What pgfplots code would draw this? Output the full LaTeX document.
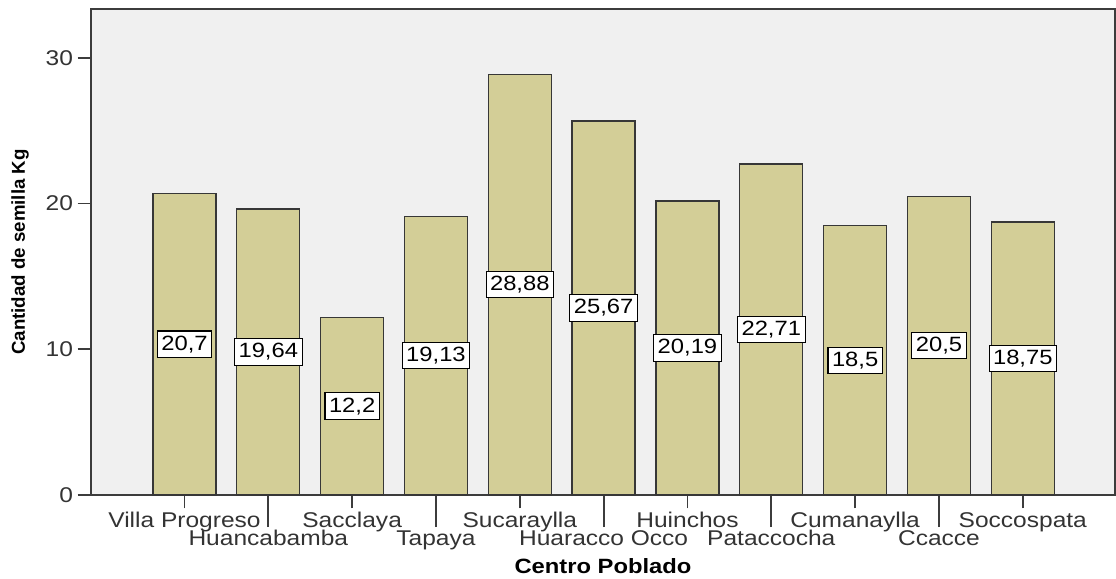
\documentclass[border=0pt]{standalone}
\usepackage{pgfplots}
\pgfplotsset{compat=1.18}
\usepackage{pgfplotstable}
\usepackage{fontspec}
\setmainfont{Liberation Sans}[FakeStretch=1.15]
\newfontfamily\plainsans{Liberation Sans}

\definecolor{bggray}{RGB}{240,240,240}
\definecolor{barfill}{RGB}{211,206,151}
\definecolor{bardraw}{RGB}{55,55,55}
\definecolor{axisdark}{RGB}{60,60,60}

% cantidad de semilla por centro poblado
\pgfplotstableread{
x v
0 20.70
1 19.64
2 12.20
3 19.13
4 28.88
5 25.67
6 20.19
7 22.71
8 18.50
9 20.50
10 18.75
}\semilla

\begin{document}
\begin{tikzpicture}
\begin{axis}[
  name=ax,
  scale only axis,
  width=768pt, height=364.5pt,
  xmin=-1.115, xmax=11.1,
  ymin=0, ymax=33.36,
  axis background/.style={fill=bggray},
  axis line style={axisdark, line width=1.3pt},
  tick style={axisdark, line width=1.3pt},
  tick align=outside,
  major tick length=10pt,
  xtick pos=bottom, ytick pos=left,
  ytick={0,10,20,30},
  xtick={0,2,4,6,8,10},
  xticklabels={Villa Progreso,Sacclaya,Sucaraylla,Huinchos,Cumanaylla,Soccospata},
  extra x ticks={1,3,5,7,9},
  extra x tick labels={Huancabamba,Tapaya,Huaracco Occo,Pataccocha,Ccacce},
  extra x tick style={major tick length=24pt,
    xticklabel style={anchor=base, yshift=0.75pt}},
  xticklabel style={anchor=base, yshift=-14.25pt},
  ticklabel style={font=\fontsize{16}{19}\selectfont, text=black!80},
  /pgf/number format/assume math mode=true,
  xlabel={\bfseries Centro Poblado},
  xlabel style={at={(axis description cs:0.5,-0.147)}, anchor=center,
    font=\fontsize{15.5}{18}\selectfont},
  ylabel={Cantidad de semilla Kg},
  ylabel style={at={(axis description cs:-0.0693,0.5)}, anchor=center,
    rotate=0, font=\plainsans\bfseries\fontsize{14}{16}\selectfont},
]
\addplot[ybar, bar width=47.25pt, fill=barfill, draw=bardraw, line width=1pt]
  table[x=x, y=v] {\semilla};
\addplot[draw=none, mark=none, nodes near coords, point meta=explicit,
  nodes near coords style={anchor=center, fill=white, draw=black, line width=0.8pt,
    inner xsep=3pt, inner ysep=3.5pt, font=\fontsize{15.5}{18}\selectfont,
    /pgf/number format/.cd, fixed, precision=2, use comma, assume math mode=true}]
  table[x=x, y expr=\thisrow{v}/2, meta=v] {\semilla};
\end{axis}
\pgfresetboundingbox
\path[use as bounding box] (-68.25pt,-62.25pt) rectangle (768.75pt,371.25pt);
\end{tikzpicture}
\end{document}
